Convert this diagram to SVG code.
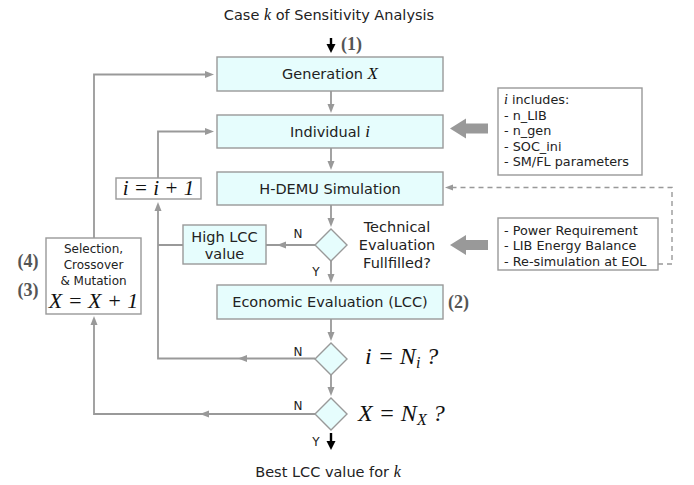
<svg xmlns="http://www.w3.org/2000/svg" xmlns:xlink="http://www.w3.org/1999/xlink" width="694" height="485" viewBox="0 0 694 485">
<defs>
<style>
.box{fill:#e6fdfd;stroke:#999;stroke-width:1.4}
.wbox{fill:#fff;stroke:#999;stroke-width:1.4}
.ln{fill:none;stroke:#999;stroke-width:1.8}
.dash{fill:none;stroke:#999;stroke-width:1.4;stroke-dasharray:5 4}
.hd{fill:#999}
.t{font-family:"DejaVu Sans",Verdana,sans-serif;font-size:14.5px;fill:#222}
.s{font-family:"DejaVu Sans",Verdana,sans-serif;font-size:12px;fill:#222}
.l{font-family:"DejaVu Sans",Verdana,sans-serif;font-size:12.8px;fill:#222}
.m{font-family:"Liberation Serif","Times New Roman",serif;font-style:italic;fill:#111}
.n{font-family:"Liberation Serif","Times New Roman",serif;font-weight:bold;font-size:18px;fill:#555}
</style>
<path id="hL" d="M0,0 L9,-3.5 L9,3.5 Z"/>
<path id="hR" d="M0,0 L-9,-3.5 L-9,3.5 Z"/>
<path id="hD" d="M0,0 L-3.5,-9 L3.5,-9 Z"/>
<path id="hU" d="M0,0 L-3.5,9 L3.5,9 Z"/>
</defs>
<rect width="694" height="485" fill="#fff"/>

<g id="title">
<text class="t" x="329" y="20" text-anchor="middle">Case <tspan class="m" font-size="16">k</tspan> of Sensitivity Analysis</text>
<path d="M331,38 V46" stroke="#000" stroke-width="2.4"/>
<path d="M331,53 L326.5,44 L335.5,44 Z" fill="#000"/>
<text class="n" x="341" y="50">(1)</text>
</g>

<g id="connectors">
<path class="ln" d="M331,91 V106 M331,148 V163 M331,205 V220 M331,261 V276 M331,319 V334 M331,375 V389"/>
<g class="hd">
<use href="#hD" x="331" y="113"/>
<use href="#hD" x="331" y="170"/>
<use href="#hD" x="331" y="227"/>
<use href="#hD" x="331" y="283"/>
<use href="#hD" x="331" y="341"/>
<use href="#hD" x="331" y="396"/>
</g>
<path class="ln" d="M315,245 H266 M183,245 H158"/>
<use class="hd" href="#hL" x="277" y="245"/>
<path class="ln" d="M315,358.5 H158 V208"/>
<use class="hd" href="#hL" x="238" y="358.5"/>
<use class="hd" href="#hU" x="158" y="202"/>
<path class="ln" d="M158,178 V131.5 H208"/>
<use class="hd" href="#hR" x="214" y="131.5"/>
<path class="ln" d="M315,414 H94 V322"/>
<use class="hd" href="#hL" x="200" y="414"/>
<use class="hd" href="#hU" x="94" y="316"/>
<path class="ln" d="M94,238 V74.5 H208"/>
<use class="hd" href="#hR" x="214" y="74.5"/>
<path class="dash" d="M658,264 H672 V187.5 H452"/>
<path class="hd" d="M445,187.5 L453,184.5 L453,190.5 Z"/>
<path class="hd" d="M450,128.5 L466,118.5 L466,123.5 L488,123.5 L488,133.5 L466,133.5 L466,138.5 Z"/>
<path class="hd" d="M450,245 L466,235 L466,240 L488,240 L488,250 L466,250 L466,255 Z"/>
<path d="M331,433 V443" stroke="#000" stroke-width="2.4"/>
<path d="M331,450 L326.5,441 L335.5,441 Z" fill="#000"/>
</g>

<g id="generation">
<rect class="box" x="217" y="57" width="226" height="34"/>
<text class="t" x="330" y="79" text-anchor="middle">Generation <tspan class="m" font-size="17">X</tspan></text>
</g>
<g id="individual">
<rect class="box" x="217" y="115" width="226" height="33"/>
<text class="t" x="330" y="136.5" text-anchor="middle">Individual <tspan class="m" font-size="17">i</tspan></text>
</g>
<g id="hdemu">
<rect class="box" x="217" y="172" width="226" height="33"/>
<text class="t" x="330" y="193.5" text-anchor="middle">H-DEMU Simulation</text>
</g>
<g id="iinc">
<rect class="wbox" x="116" y="178" width="85" height="21"/>
<text class="m" x="158.5" y="195" font-size="21" text-anchor="middle">i = i + 1</text>
</g>
<g id="tech">
<path class="box" d="M331,229 L347,245 L331,261 L315,245 Z"/>
<text class="t" x="397" y="232" text-anchor="middle">Technical</text>
<text class="t" x="397" y="250" text-anchor="middle">Evaluation</text>
<text class="t" x="397" y="268" text-anchor="middle">Fullfilled?</text>
<text class="s" x="298" y="238" text-anchor="middle">N</text>
<text class="s" x="316" y="276" text-anchor="middle">Y</text>
</g>
<g id="highlcc">
<rect class="box" x="183" y="225" width="83" height="39"/>
<text class="t" x="224.5" y="242" text-anchor="middle">High LCC</text>
<text class="t" x="224.5" y="258.5" text-anchor="middle">value</text>
</g>
<g id="selection">
<rect class="wbox" x="46" y="238" width="95" height="76"/>
<text class="s" x="93.5" y="252.5" text-anchor="middle">Selection,</text>
<text class="s" x="93.5" y="268.5" text-anchor="middle">Crossover</text>
<text class="s" x="93.5" y="284.5" text-anchor="middle">&amp; Mutation</text>
<text class="m" x="93.5" y="307.5" font-size="22" text-anchor="middle">X = X + 1</text>
<text class="n" x="28" y="267" text-anchor="middle">(4)</text>
<text class="n" x="28" y="295.5" text-anchor="middle">(3)</text>
</g>
<g id="economic">
<rect class="box" x="217" y="285" width="226" height="34"/>
<text class="t" x="330" y="307" text-anchor="middle">Economic Evaluation (LCC)</text>
<text class="n" x="448" y="308">(2)</text>
</g>
<g id="checki">
<path class="box" d="M331,343 L347,359 L331,375 L315,359 Z"/>
<text class="s" x="298" y="356" text-anchor="middle">N</text>
<text class="m" x="365" y="364" font-size="24">i = N<tspan font-size="16" dy="4">i</tspan><tspan dy="-4"> ?</tspan></text>
</g>
<g id="checkx">
<path class="box" d="M331,398 L347,414 L331,430 L315,414 Z"/>
<text class="s" x="298" y="409.5" text-anchor="middle">N</text>
<text class="s" x="316" y="446" text-anchor="middle">Y</text>
<text class="m" x="358" y="421" font-size="24">X = N<tspan font-size="16" dy="4">X</tspan><tspan dy="-4"> ?</tspan></text>
</g>
<g id="best">
<text class="t" x="328" y="477" text-anchor="middle">Best LCC value for <tspan class="m" font-size="16">k</tspan></text>
</g>
<g id="info1">
<rect class="wbox" x="498" y="88" width="144" height="87"/>
<text class="l" x="504" y="104"><tspan class="m" font-size="14">i</tspan> includes:</text>
<text class="l" x="504" y="119.5">- n_LIB</text>
<text class="l" x="504" y="135">- n_gen</text>
<text class="l" x="504" y="150.5">- SOC_ini</text>
<text class="l" x="504" y="166">- SM/FL parameters</text>
</g>
<g id="info2">
<rect class="wbox" x="498" y="218" width="160" height="52"/>
<text class="l" x="504" y="234.5">- Power Requirement</text>
<text class="l" x="504" y="250">- LIB Energy Balance</text>
<text class="l" x="504" y="265.5">- Re-simulation at EOL</text>
</g>
</svg>
